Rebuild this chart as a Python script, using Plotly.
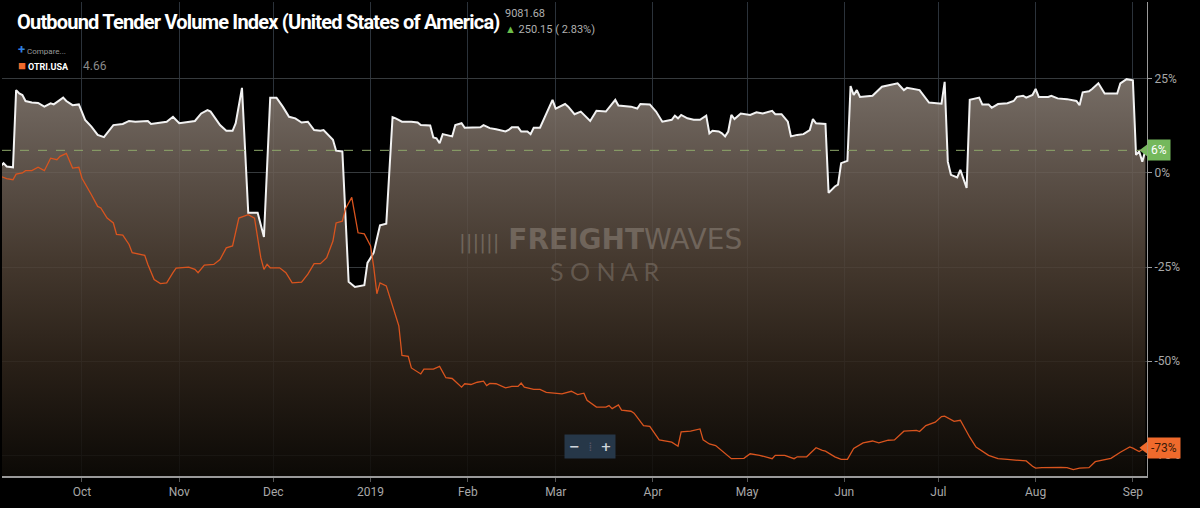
import plotly.graph_objects as go

# Outbound Tender Volume Index (white) vs OTRI.USA (orange), % change
otvi_dates = [
    "2018-09-05", "2018-09-06", "2018-09-07", "2018-09-09", "2018-09-10", "2018-09-11",
    "2018-09-12", "2018-09-13", "2018-09-15", "2018-09-17", "2018-09-19", "2018-09-21",
    "2018-09-22", "2018-09-24", "2018-09-25", "2018-09-26", "2018-09-28", "2018-09-30",
    "2018-10-02", "2018-10-04", "2018-10-06", "2018-10-08", "2018-10-09", "2018-10-11",
    "2018-10-14", "2018-10-16", "2018-10-18", "2018-10-22", "2018-10-23", "2018-10-25",
    "2018-10-28", "2018-10-30", "2018-11-01", "2018-11-06", "2018-11-08", "2018-11-10",
    "2018-11-11", "2018-11-14", "2018-11-16", "2018-11-18", "2018-11-19", "2018-11-21",
    "2018-11-23", "2018-11-26", "2018-11-28", "2018-11-30", "2018-12-02", "2018-12-04",
    "2018-12-06", "2018-12-08", "2018-12-10", "2018-12-12", "2018-12-14", "2018-12-16",
    "2018-12-17", "2018-12-20", "2018-12-21", "2018-12-23", "2018-12-25", "2018-12-27",
    "2018-12-30", "2018-12-31", "2019-01-02", "2019-01-04", "2019-01-06", "2019-01-08",
    "2019-01-09", "2019-01-11", "2019-01-14", "2019-01-16", "2019-01-17", "2019-01-20",
    "2019-01-21", "2019-01-22", "2019-01-23", "2019-01-24", "2019-01-27", "2019-01-28",
    "2019-01-30", "2019-01-31", "2019-02-03", "2019-02-05", "2019-02-06", "2019-02-08",
    "2019-02-10", "2019-02-13", "2019-02-14", "2019-02-15", "2019-02-17", "2019-02-18",
    "2019-02-20", "2019-02-21", "2019-02-22", "2019-02-24", "2019-02-28", "2019-03-01",
    "2019-03-04", "2019-03-05", "2019-03-07", "2019-03-09", "2019-03-12", "2019-03-14",
    "2019-03-17", "2019-03-20", "2019-03-21", "2019-03-25", "2019-03-27", "2019-03-28",
    "2019-03-31", "2019-04-02", "2019-04-04", "2019-04-07", "2019-04-08", "2019-04-09",
    "2019-04-10", "2019-04-12", "2019-04-14", "2019-04-16", "2019-04-18", "2019-04-19",
    "2019-04-20", "2019-04-22", "2019-04-23", "2019-04-24", "2019-04-25", "2019-04-26",
    "2019-04-27", "2019-04-29", "2019-05-02", "2019-05-04", "2019-05-06", "2019-05-08",
    "2019-05-09", "2019-05-10", "2019-05-12", "2019-05-14", "2019-05-15", "2019-05-17",
    "2019-05-19", "2019-05-21", "2019-05-22", "2019-05-23", "2019-05-26", "2019-05-27",
    "2019-05-29", "2019-05-30", "2019-05-31", "2019-06-02", "2019-06-03", "2019-06-04",
    "2019-06-05", "2019-06-06", "2019-06-10", "2019-06-13", "2019-06-15", "2019-06-17",
    "2019-06-18", "2019-06-19", "2019-06-20", "2019-06-21", "2019-06-25", "2019-06-28",
    "2019-07-02", "2019-07-03", "2019-07-04", "2019-07-05", "2019-07-07", "2019-07-08",
    "2019-07-10", "2019-07-11", "2019-07-14", "2019-07-15", "2019-07-17", "2019-07-18",
    "2019-07-20", "2019-07-23", "2019-07-25", "2019-07-26", "2019-07-28", "2019-07-29",
    "2019-07-31", "2019-08-01", "2019-08-02", "2019-08-05", "2019-08-06", "2019-08-08",
    "2019-08-11", "2019-08-14", "2019-08-15", "2019-08-16", "2019-08-18", "2019-08-19",
    "2019-08-21", "2019-08-23", "2019-08-27", "2019-08-28", "2019-08-30", "2019-09-01",
    "2019-09-02", "2019-09-03", "2019-09-04", "2019-09-05",
]
otvi_values = [
    1.7, 2.6, 1.7, 1.5, 22.0, 21.1,
    20.7, 19.1, 18.7, 18.6, 17.6, 18.5,
    18.2, 19.4, 20.0, 19.1, 18.0, 18.2,
    14.1, 12.3, 10.1, 9.5, 10.5, 12.7,
    13.0, 13.8, 13.6, 13.8, 13.0, 13.2,
    13.6, 14.9, 13.2, 13.8, 15.8, 16.7,
    16.3, 12.7, 11.2, 11.2, 13.2, 22.6,
    -10.6, -10.6, -17.0, 20.0, 20.0, 17.6,
    14.9, 14.5, 13.4, 13.6, 11.4, 11.2,
    11.4, 8.8, 5.9, 5.7, -28.9, -30.3,
    -29.8, -23.9, -21.2, -13.9, -13.5, 14.8,
    14.5, 13.6, 13.6, 13.4, 12.7, 12.6,
    9.4, 9.2, 7.9, 10.3, 9.7, 12.7,
    13.2, 12.0, 12.0, 12.1, 12.7, 11.9,
    11.6, 11.0, 11.4, 12.1, 12.1, 11.0,
    11.0, 10.3, 12.0, 12.0, 19.4, 17.1,
    18.3, 17.6, 15.6, 16.3, 13.8, 16.5,
    16.3, 19.4, 17.9, 17.6, 17.1, 18.3,
    18.2, 16.3, 13.6, 14.1, 15.2, 14.5,
    15.4, 14.5, 14.1, 14.1, 15.2, 10.5,
    11.2, 11.0, 10.5, 9.7, 11.0, 15.4,
    14.3, 15.8, 15.4, 16.1, 15.8, 16.3,
    16.5, 15.6, 15.6, 13.6, 9.7, 10.1,
    10.3, 11.4, 14.3, 13.2, 13.0, -5.3,
    -3.6, -3.1, 2.6, 3.2, 23.1, 20.7,
    22.0, 20.2, 20.5, 22.9, 23.3, 23.5,
    23.8, 22.9, 22.0, 22.6, 22.0, 18.7,
    18.4, 24.2, 3.0, -0.5, -1.2, 0.8,
    -4.0, 19.4, 20.0, 18.2, 18.2, 17.3,
    18.3, 18.5, 19.1, 20.2, 20.5, 20.0,
    20.7, 22.3, 20.2, 20.2, 20.5, 19.8,
    19.6, 19.1, 18.0, 21.4, 21.7, 22.3,
    23.8, 21.1, 21.1, 23.8, 24.9, 24.6,
    4.8, 5.7, 3.0, 6.0,
]

otri_dates = [
    "2018-09-05", "2018-09-07", "2018-09-09", "2018-09-10", "2018-09-12", "2018-09-13",
    "2018-09-15", "2018-09-17", "2018-09-19", "2018-09-21", "2018-09-23", "2018-09-24",
    "2018-09-26", "2018-09-28", "2018-09-30", "2018-10-01", "2018-10-04", "2018-10-06",
    "2018-10-07", "2018-10-09", "2018-10-11", "2018-10-12", "2018-10-14", "2018-10-16",
    "2018-10-17", "2018-10-21", "2018-10-22", "2018-10-24", "2018-10-26", "2018-10-28",
    "2018-10-30", "2018-10-31", "2018-11-04", "2018-11-06", "2018-11-07", "2018-11-09",
    "2018-11-12", "2018-11-14", "2018-11-16", "2018-11-18", "2018-11-20", "2018-11-23",
    "2018-11-25", "2018-11-27", "2018-11-28", "2018-11-29", "2018-11-30", "2018-12-03",
    "2018-12-05", "2018-12-07", "2018-12-10", "2018-12-12", "2018-12-14", "2018-12-16",
    "2018-12-18", "2018-12-20", "2018-12-21", "2018-12-23", "2018-12-24", "2018-12-26",
    "2018-12-28", "2018-12-30", "2019-01-01", "2019-01-02", "2019-01-03", "2019-01-04",
    "2019-01-06", "2019-01-08", "2019-01-10", "2019-01-11", "2019-01-13", "2019-01-14",
    "2019-01-17", "2019-01-18", "2019-01-21", "2019-01-23", "2019-01-25", "2019-01-27",
    "2019-01-30", "2019-01-31", "2019-02-02", "2019-02-04", "2019-02-06", "2019-02-07",
    "2019-02-08", "2019-02-10", "2019-02-13", "2019-02-15", "2019-02-17", "2019-02-18",
    "2019-02-19", "2019-02-22", "2019-02-24", "2019-02-26", "2019-02-28", "2019-03-03",
    "2019-03-06", "2019-03-08", "2019-03-10", "2019-03-11", "2019-03-14", "2019-03-17",
    "2019-03-18", "2019-03-19", "2019-03-21", "2019-03-22", "2019-03-25", "2019-03-26",
    "2019-03-29", "2019-03-31", "2019-04-03", "2019-04-06", "2019-04-07", "2019-04-09",
    "2019-04-10", "2019-04-13", "2019-04-16", "2019-04-17", "2019-04-19", "2019-04-21",
    "2019-04-26", "2019-04-30", "2019-05-02", "2019-05-05", "2019-05-09", "2019-05-10",
    "2019-05-13", "2019-05-16", "2019-05-17", "2019-05-20", "2019-05-23", "2019-05-25",
    "2019-05-26", "2019-05-29", "2019-05-31", "2019-06-02", "2019-06-04", "2019-06-07",
    "2019-06-08", "2019-06-10", "2019-06-12", "2019-06-15", "2019-06-17", "2019-06-18",
    "2019-06-20", "2019-06-24", "2019-06-25", "2019-06-27", "2019-06-29", "2019-06-30",
    "2019-07-02", "2019-07-03", "2019-07-06", "2019-07-08", "2019-07-11", "2019-07-13",
    "2019-07-17", "2019-07-20", "2019-07-23", "2019-07-26", "2019-07-29", "2019-07-31",
    "2019-08-01", "2019-08-03", "2019-08-06", "2019-08-08", "2019-08-09", "2019-08-11",
    "2019-08-13", "2019-08-15", "2019-08-18", "2019-08-20", "2019-08-23", "2019-08-25",
    "2019-08-28", "2019-08-31", "2019-09-01", "2019-09-03", "2019-09-05",
]
otri_values = [
    -0.9, -1.5, -1.8, -0.3, 0.0, 0.6,
    0.6, 1.5, 0.6, 3.9, 3.5, 4.4,
    5.2, 1.3, 1.5, -1.4, -5.8, -8.9,
    -9.3, -12.0, -13.3, -16.3, -16.5, -19.0,
    -21.2, -21.9, -24.3, -28.3, -29.4, -29.2,
    -26.5, -25.3, -25.0, -25.6, -26.5, -24.5,
    -24.3, -23.0, -19.9, -19.4, -12.0, -11.1,
    -12.0, -22.5, -25.6, -24.3, -25.2, -25.2,
    -26.5, -29.2, -29.0, -26.9, -24.1, -24.1,
    -22.5, -18.1, -13.3, -12.8, -9.5, -6.5,
    -15.9, -16.2, -19.4, -25.0, -32.1, -29.2,
    -30.0, -35.3, -40.6, -48.5, -48.7, -51.8,
    -53.4, -52.1, -52.1, -51.4, -54.4, -54.6,
    -56.9, -56.0, -56.2, -55.6, -55.3, -56.5,
    -55.9, -56.0, -57.1, -56.7, -56.7, -55.8,
    -56.9, -57.5, -57.5, -58.3, -58.5, -58.7,
    -58.0, -58.9, -58.5, -60.4, -62.2, -62.2,
    -61.8, -62.6, -61.6, -63.0, -63.3, -63.8,
    -67.1, -67.3, -70.9, -71.3, -71.5, -72.6,
    -68.8, -68.6, -68.0, -70.9, -72.0, -72.4,
    -75.9, -75.8, -74.6, -75.0, -75.9, -75.0,
    -75.0, -75.9, -75.4, -75.4, -73.0, -73.7,
    -73.9, -75.4, -76.1, -76.1, -73.2, -71.7,
    -71.5, -71.2, -71.7, -71.0, -70.9, -70.2,
    -68.6, -68.4, -68.7, -67.1, -66.5, -66.2,
    -64.7, -64.6, -66.0, -65.7, -70.2, -72.8,
    -75.0, -75.9, -76.1, -76.3, -76.5, -77.9,
    -78.4, -78.3, -78.2, -78.3, -78.2, -78.3,
    -78.8, -78.4, -78.3, -76.7, -76.1, -75.8,
    -74.2, -72.8, -73.1, -74.0, -73.0,
]

month_ticks = ["2018-10-01", "2018-11-01", "2018-12-01", "2019-01-01", "2019-02-01",
               "2019-03-01", "2019-04-01", "2019-05-01", "2019-06-01", "2019-07-01",
               "2019-08-01", "2019-09-01"]
month_labels = ["Oct", "Nov", "Dec", "2019", "Feb", "Mar", "Apr", "May", "Jun", "Jul",
                "Aug", "Sep"]
pct_ticks = [-75, -50, -25, 0, 25]
pct_labels = ["-75%", "-50%", "-25%", "0%", "25%"]

y_lo, y_hi = -80.5, 45.4
cond = "Roboto, sans-serif"
white_last = otvi_values[-1]
orange_last = otri_values[-1]

fig = go.Figure()

# floor for the gradient area
fig.add_trace(go.Scatter(x=otvi_dates, y=[y_lo] * len(otvi_dates), mode="lines",
                         line=dict(width=0), showlegend=False, hoverinfo="skip"))
fig.add_trace(go.Scatter(
    x=otvi_dates, y=otvi_values, mode="lines", fill="tonexty",
    line=dict(color="#f2f2f2", width=2),
    fillgradient=dict(
        type="vertical", start=y_lo, stop=25,
        colorscale=[[0, "rgba(14,11,7,0.85)"], [0.29, "rgba(49,38,28,0.85)"],
                    [0.53, "rgba(79,65,53,0.85)"], [0.76, "rgba(107,94,84,0.85)"],
                    [1, "rgba(139,128,119,0.85)"]],
    ),
    showlegend=False, hoverinfo="skip",
))
fig.add_trace(go.Scatter(x=otri_dates, y=otri_values, mode="lines",
                         line=dict(color="#d9541e", width=1.3),
                         showlegend=False, hoverinfo="skip"))

# value tags on the right
fig.add_trace(go.Scatter(x=[otvi_dates[-1]], y=[white_last], mode="markers",
                         marker=dict(symbol="triangle-left", size=12, color="#74b85c"),
                         cliponaxis=False, showlegend=False, hoverinfo="skip"))
fig.add_trace(go.Scatter(x=[otri_dates[-1]], y=[orange_last], mode="markers",
                         marker=dict(symbol="triangle-left", size=12, color="#f06a2c"),
                         cliponaxis=False, showlegend=False, hoverinfo="skip"))

fig.add_shape(type="line", xref="paper", x0=0, x1=1, y0=white_last, y1=white_last,
              line=dict(color="#8ea86a", width=1, dash="dash"))

fig.update_layout(
    width=1200, height=508,
    margin=dict(l=2, r=53, t=2, b=32),
    paper_bgcolor="#000000", plot_bgcolor="#000000",
    font=dict(family=cond, color="#a8a8a8", size=12),
    hovermode=False,
    xaxis=dict(
        type="date", range=["2018-09-05 12:00", "2019-09-05 12:00"],
        tickvals=month_ticks, ticktext=month_labels,
        showgrid=True, gridcolor="#2b323a", gridwidth=1,
        showline=True, linecolor="#9a9a9a", linewidth=2,
        ticks="outside", ticklen=4, tickcolor="#555",
        tickfont=dict(size=12, color="#a8a8a8"), zeroline=False,
    ),
    yaxis=dict(
        side="right", range=[y_lo, y_hi], tickvals=pct_ticks, ticktext=pct_labels,
        showgrid=True, gridcolor="#363a3d", gridwidth=1,
        showline=True, linecolor="#9a9a9a", linewidth=1,
        ticks="outside", ticklen=4, tickcolor="#9a9a9a",
        tickfont=dict(size=12, color="#a8a8a8"), zeroline=False,
    ),
    annotations=[
        dict(xref="paper", yref="paper", x=0.0114, y=0.958, xanchor="left", yanchor="middle",
             text="<span style='letter-spacing:-0.8px'><b>Outbound Tender Volume Index "
                  "(United States of America)</b></span>",
             showarrow=False, font=dict(family=cond, size=20, color="#ffffff")),
        dict(xref="paper", yref="paper", x=0.4376, y=0.976, xanchor="left", yanchor="middle",
             text="9081.68", showarrow=False, font=dict(family=cond, size=11, color="#b0b0b0")),
        dict(xref="paper", yref="paper", x=0.4376, y=0.943, xanchor="left", yanchor="middle",
             text="<span style='color:#6cbf4a'>▲</span> 250.15 ( 2.83%)", showarrow=False,
             font=dict(family=cond, size=11, color="#b0b0b0")),
        dict(xref="paper", yref="paper", x=0.012, y=0.899, xanchor="left", yanchor="middle",
             text="<span style='color:#2f80e0;font-size:13px'><b>+</b></span> Compare...",
             showarrow=False, font=dict(family=cond, size=8, color="#9a9a9a")),
        dict(xref="paper", yref="paper", x=0.0125, y=0.865, xanchor="left", yanchor="middle",
             text="<span style='color:#f06a2c;font-size:13px'>■</span> <b>OTRI.USA</b>",
             showarrow=False, font=dict(family=cond, size=9, color="#ffffff")),
        dict(xref="paper", yref="paper", x=0.069, y=0.865, xanchor="left", yanchor="middle",
             text="4.66", showarrow=False, font=dict(family=cond, size=12, color="#8a8a8a")),
        # watermark
        dict(xref="paper", yref="paper", x=0.523, y=0.498, xanchor="center", yanchor="middle",
             text="<span style='font-size:20px'>||||||</span> <b>FREIGHT</b>WAVES",
             showarrow=False, font=dict(family="DejaVu Sans, sans-serif", size=28,
                                        color="rgba(150,140,130,0.5)")),
        dict(xref="paper", yref="paper", x=0.527, y=0.432, xanchor="center", yanchor="middle",
             text="S O N A R", showarrow=False,
             font=dict(family="Lato, sans-serif", size=25, color="rgba(150,140,130,0.42)")),
        # zoom buttons
        dict(xref="paper", yref="paper", x=0.5135, y=0.063, xanchor="center", yanchor="middle",
             text="<b>−</b>  <span style='color:#556'>⁞</span>  <b>+</b>", showarrow=False,
             bgcolor="#263748", borderpad=4,
             font=dict(family="DejaVu Sans, sans-serif", size=13, color="#d0d6dc")),
        # right tags
        dict(xref="paper", yref="y", x=1.0, y=white_last, xanchor="left", yanchor="middle",
             text="6%", showarrow=False, bgcolor="#74b85c", borderpad=3,
             font=dict(family=cond, size=12, color="#ffffff")),
        dict(xref="paper", yref="y", x=1.0, y=orange_last, xanchor="left", yanchor="middle",
             text="-73%", showarrow=False, bgcolor="#f06a2c", borderpad=3,
             font=dict(family=cond, size=12, color="#3a1a08")),
    ],
)

fig.write_html("out.html", config={"displayModeBar": False},
               post_script="document.body.style.margin='0';")
